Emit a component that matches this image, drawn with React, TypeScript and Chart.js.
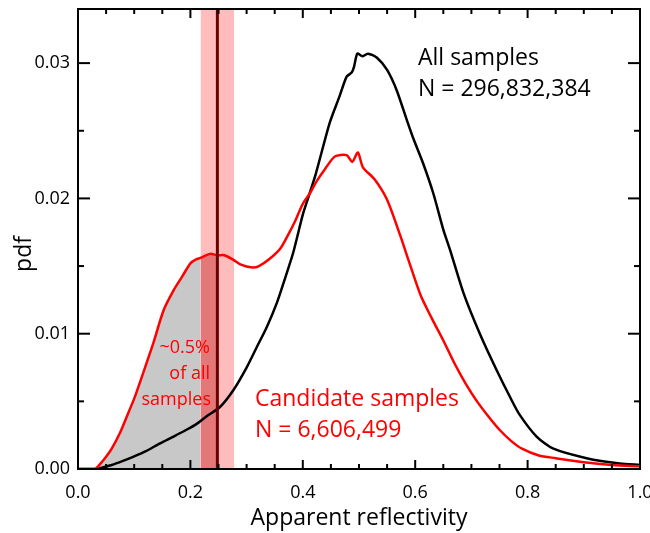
import React, { useEffect, useRef } from "react";
import { Chart, registerables } from "chart.js";

Chart.register(...registerables);

const allX = [0, 0.034, 0.06, 0.08, 0.098, 0.12, 0.146, 0.17, 0.193, 0.21, 0.229, 0.253, 0.276, 0.3, 0.318, 0.336, 0.354, 0.37, 0.383, 0.4, 0.41, 0.423, 0.448, 0.465, 0.478, 0.487, 0.491, 0.497, 0.506, 0.516, 0.532, 0.55, 0.567, 0.585, 0.596, 0.614, 0.632, 0.65, 0.662, 0.686, 0.715, 0.745, 0.769, 0.786, 0.816, 0.846, 0.905, 0.964, 1.0];
const allY = [0, 0, 0.0003, 0.0006, 0.0009, 0.0013, 0.0019, 0.0024, 0.0029, 0.0033, 0.0039, 0.0046, 0.0058, 0.0075, 0.009, 0.0105, 0.0123, 0.0143, 0.016, 0.0188, 0.0201, 0.0218, 0.0256, 0.0275, 0.029, 0.0293, 0.0297, 0.0307, 0.0305, 0.0307, 0.0304, 0.0295, 0.028, 0.0258, 0.0245, 0.0226, 0.0204, 0.0177, 0.0162, 0.013, 0.01, 0.0073, 0.0053, 0.004, 0.0024, 0.0015, 0.0008, 0.0004, 0.0003];

const candX = [0, 0.03, 0.04, 0.05, 0.06, 0.075, 0.09, 0.1, 0.116, 0.134, 0.152, 0.17, 0.185, 0.2, 0.21, 0.218, 0.235, 0.248, 0.26, 0.275, 0.29, 0.31, 0.322, 0.34, 0.36, 0.375, 0.386, 0.4, 0.413, 0.425, 0.44, 0.457, 0.478, 0.488, 0.498, 0.507, 0.528, 0.55, 0.573, 0.59, 0.61, 0.63, 0.65, 0.67, 0.69, 0.71, 0.73, 0.75, 0.77, 0.79, 0.82, 0.85, 0.9, 0.95, 1.0];
const candY = [0, 0, 0.0004, 0.0009, 0.0015, 0.0027, 0.0042, 0.0052, 0.0071, 0.0093, 0.0117, 0.0132, 0.0142, 0.0152, 0.0155, 0.0156, 0.0159, 0.0158, 0.0158, 0.0155, 0.0151, 0.0149, 0.015, 0.0155, 0.0163, 0.0174, 0.0183, 0.0196, 0.0204, 0.0213, 0.0222, 0.0231, 0.0232, 0.0227, 0.0234, 0.0223, 0.0214, 0.0199, 0.0173, 0.0152, 0.0128, 0.0111, 0.0095, 0.0078, 0.0063, 0.005, 0.0039, 0.0029, 0.0021, 0.0015, 0.001, 0.0008, 0.0005, 0.0003, 0.0002];

const xTicks = [0, 0.2, 0.4, 0.6, 0.8, 1.0];
const xMinorTicks = [0.05, 0.1, 0.15, 0.25, 0.3, 0.35, 0.45, 0.5, 0.55, 0.65, 0.7, 0.75, 0.85, 0.9, 0.95];
const yTicks = [0, 0.01, 0.02, 0.03];
const yMinorTicks = [0.005, 0.015, 0.025];

const yMax = 0.034;
const bandStart = 0.218;
const bandEnd = 0.278;
const threshold = 0.248;

const FONT = "'Open Sans', sans-serif";

export default function App() {
  const ref = useRef<HTMLCanvasElement | null>(null);

  useEffect(() => {
    const canvas = ref.current;
    if (!canvas) return;

    const allPts = allX.map((x, i) => ({ x, y: allY[i] }));
    const candPts = candX.map((x, i) => ({ x, y: candY[i] }));
    const grayPts = candPts.filter((p) => p.x <= bandStart);
    const overlapPts = candPts.filter((p) => p.x >= bandStart && p.x <= threshold);
    const bandPts = [
      { x: bandStart, y: yMax },
      { x: bandEnd, y: yMax },
    ];

    const decor = {
      id: "decor",
      afterDatasetsDraw(chart: any) {
        const { ctx, chartArea: a, scales } = chart;
        const xs = scales.x;
        const ys = scales.y;
        ctx.save();
        const tx = xs.getPixelForValue(threshold);
        ctx.strokeStyle = "#6b0000";
        ctx.lineWidth = 3;
        ctx.beginPath();
        ctx.moveTo(tx, a.top);
        ctx.lineTo(tx, a.bottom);
        ctx.stroke();

        ctx.strokeStyle = "#000";
        ctx.lineWidth = 2;
        ctx.strokeRect(a.left, a.top, a.right - a.left, a.bottom - a.top);

        const tick = (x1: number, y1: number, x2: number, y2: number) => {
          ctx.beginPath();
          ctx.moveTo(x1, y1);
          ctx.lineTo(x2, y2);
          ctx.stroke();
        };
        xTicks.forEach((v) => {
          const p = xs.getPixelForValue(v);
          tick(p, a.bottom, p, a.bottom - 9);
          tick(p, a.top, p, a.top + 9);
        });
        xMinorTicks.forEach((v) => {
          const p = xs.getPixelForValue(v);
          tick(p, a.bottom, p, a.bottom - 5);
          tick(p, a.top, p, a.top + 5);
        });
        yTicks.forEach((v) => {
          const p = ys.getPixelForValue(v);
          tick(a.left, p, a.left + 12, p);
          tick(a.right, p, a.right - 12, p);
        });
        yMinorTicks.forEach((v) => {
          const p = ys.getPixelForValue(v);
          tick(a.left, p, a.left + 6, p);
          tick(a.right, p, a.right - 6, p);
        });
        ctx.restore();
      },
      afterDraw(chart: any) {
        const { ctx } = chart;
        ctx.save();
        ctx.textBaseline = "alphabetic";
        ctx.textAlign = "left";
        ctx.fillStyle = "#000";
        ctx.font = `23px ${FONT}`;
        ctx.fillText("All samples", 418, 65);
        ctx.fillText("N = 296,832,384", 418, 96);

        ctx.fillStyle = "#ff0000";
        ctx.fillText("Candidate samples", 255, 406);
        ctx.fillText("N = 6,606,499", 255, 437);

        ctx.font = `18px ${FONT}`;
        ctx.textAlign = "right";
        ctx.fillText("~0.5%", 210, 353);
        ctx.fillText("of all", 210, 379);
        ctx.fillText("samples", 211, 405);

        ctx.fillStyle = "#000";
        ctx.font = `23px ${FONT}`;
        ctx.translate(24, 254);
        ctx.rotate(-Math.PI / 2);
        ctx.textAlign = "center";
        ctx.textBaseline = "middle";
        ctx.fillText("pdf", 0, 0);
        ctx.restore();
      },
    };

    const chart = new Chart(canvas, {
      type: "line",
      data: {
        datasets: [
          {
            label: "All samples",
            data: allPts,
            borderColor: "#000000",
            borderWidth: 2.5,
            pointRadius: 0,
            tension: 0.25,
            fill: false,
            order: 1,
          },
          {
            label: "Candidate samples",
            data: candPts,
            borderColor: "#ff0000",
            borderWidth: 2.5,
            pointRadius: 0,
            tension: 0.25,
            fill: false,
            order: 0,
          },
          {
            label: "overlap",
            data: overlapPts,
            borderWidth: 0,
            borderColor: "rgba(0,0,0,0)",
            backgroundColor: "#e47878",
            pointRadius: 0,
            tension: 0.25,
            fill: "origin",
            order: 4,
          },
          {
            label: "gray",
            data: grayPts,
            borderWidth: 0,
            borderColor: "rgba(0,0,0,0)",
            backgroundColor: "#c8c8c8",
            pointRadius: 0,
            tension: 0.25,
            fill: "origin",
            order: 5,
          },
          {
            label: "band",
            data: bandPts,
            borderWidth: 0,
            borderColor: "rgba(0,0,0,0)",
            backgroundColor: "#ffbcbc",
            pointRadius: 0,
            tension: 0,
            fill: "origin",
            order: 10,
          },
        ],
      },
      options: {
        responsive: false,
        animation: false,
        layout: { padding: { left: 0, right: 10, top: 9, bottom: 0 } },
        plugins: {
          legend: { display: false },
          tooltip: { enabled: false },
          filler: { drawTime: "beforeDatasetDraw" },
        },
        scales: {
          x: {
            type: "linear",
            min: 0,
            max: 1,
            grid: { display: false, drawTicks: false },
            border: { display: false },
            afterBuildTicks: (s: any) => {
              s.ticks = xTicks.map((v) => ({ value: v }));
            },
            afterFit: (s: any) => {
              s.height = 64;
              s.paddingLeft = 0;
              s.paddingRight = 0;
            },
            ticks: {
              padding: 13,
              color: "#000",
              font: { family: FONT, size: 18 },
              maxRotation: 0,
              autoSkip: false,
              callback: (v: any) => Number(v).toFixed(1),
            },
            title: {
              display: true,
              text: "Apparent reflectivity",
              color: "#000",
              font: { family: FONT, size: 23 },
              padding: { top: 0, bottom: 1 },
            },
          },
          y: {
            type: "linear",
            min: 0,
            max: yMax,
            grid: { display: false, drawTicks: false },
            border: { display: false },
            afterBuildTicks: (s: any) => {
              s.ticks = yTicks.map((v) => ({ value: v }));
            },
            afterFit: (s: any) => {
              s.width = 78;
              s.paddingTop = 0;
              s.paddingBottom = 0;
            },
            ticks: {
              padding: 8,
              color: "#000",
              font: { family: FONT, size: 18 },
              autoSkip: false,
              callback: (v: any) => Number(v).toFixed(2),
            },
          },
        },
      },
      plugins: [decor],
    } as any);

    return () => chart.destroy();
  }, []);

  return (
    <div style={{ position: "fixed", left: 0, top: 0, width: 650, height: 533, background: "#fff" }}>
      <canvas ref={ref} width={650} height={533} style={{ display: "block" }} />
    </div>
  );
}
